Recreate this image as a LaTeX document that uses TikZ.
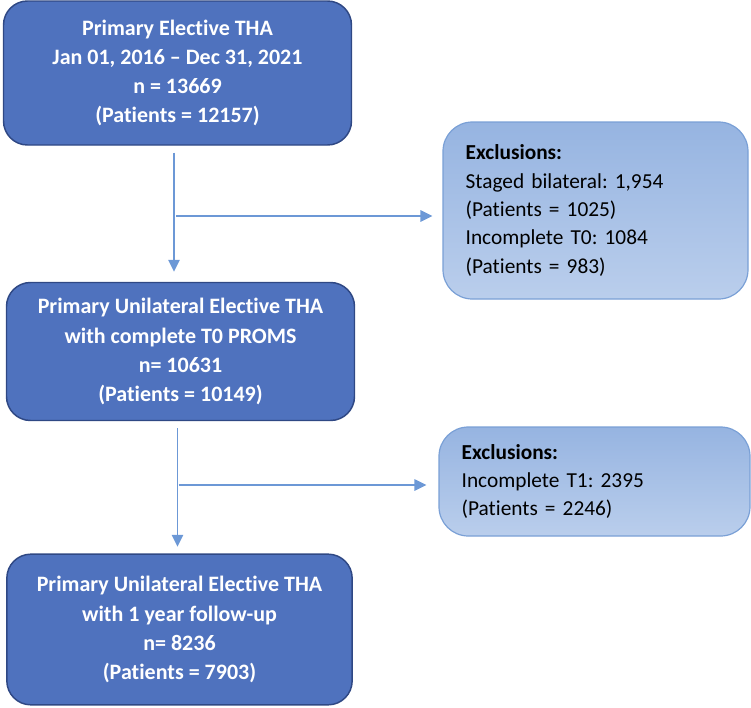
\documentclass[tikz,border=0pt]{standalone}
\usepackage{fontspec}
\setmainfont{Carlito}[Ligatures=NoCommon]
\usepackage{tikz}
\usetikzlibrary{positioning,arrows.meta,calc}
\definecolor{boxblue}{RGB}{79,114,190}
\definecolor{boxedge}{RGB}{47,72,132}
\definecolor{excltop}{RGB}{150,180,225}
\definecolor{exclbot}{RGB}{186,206,236}
\definecolor{excledge}{RGB}{122,160,214}
\definecolor{arrowblue}{RGB}{108,152,214}
\frenchspacing
\tikzset{
  flowbox/.style={draw=boxedge, line width=1.1pt, fill=boxblue, rounded corners=18pt,
    align=center, text=white, font=\fontsize{16.5}{21.8}\selectfont\bfseries,
    minimum width=261pt, inner sep=0pt},
  exclbox/.style={draw=excledge, line width=0.9pt, top color=excltop, bottom color=exclbot,
    rounded corners=22pt, align=left, font=\fontsize{16}{21.3}\selectfont,
    anchor=center, inner xsep=17pt, inner ysep=0pt},
  flowarrow/.style={draw=arrowblue, line width=1.4pt,
    -{Triangle[length=9pt, width=8.5pt]}},
}

\begin{document}
\begin{tikzpicture}[x=0.75pt, y=-0.75pt]
  \useasboundingbox (0,0) rectangle (751,708);
  % main chain
  \node[flowbox, minimum height=108pt] (prim) at (177.5,73)
    {Primary Elective THA\\Jan 01, 2016 -- Dec 31, 2021\\n = 13669\\(Patients = 12157)};
  \node[flowbox, minimum height=103.5pt] (uni) at (180.5,351.5)
    {Primary Unilateral Elective THA\\with complete T0 PROMS\\n= 10631\\(Patients = 10149)};
  \node[flowbox, minimum height=113pt, minimum width=259pt] (fup) at (179.5,629.5)
    {Primary Unilateral Elective THA\\with 1 year follow-up\\n= 8236\\(Patients = 7903)};
  % exclusions
  \node[exclbox, minimum height=132.75pt, minimum width=228.75pt, text width=194.75pt] (excla) at (595.5,210.5)
    {\textbf{Exclusions:}\\Staged bilateral: 1,954\\(Patients = 1025)\\Incomplete T0: 1084\\(Patients = 983)};
  \node[exclbox, minimum height=81.75pt, minimum width=233.25pt, text width=199.25pt] (exclb) at (594.5,481.5)
    {\textbf{Exclusions:}\\Incomplete T1: 2395\\(Patients = 2246)};
  % connectors
  \coordinate (splita) at (174,216);
  \coordinate (splitb) at (177.5,485);
  \draw[flowarrow] (prim.south -| splita) ++(0,7) -- ([yshift=7.5pt]uni.north -| splita);
  \draw[flowarrow] (splita) ++(2,0) -- ([xshift=-7.5pt]excla.west |- splita);
  \draw[flowarrow] (uni.south -| splitb) ++(0,7) -- ([yshift=5pt]fup.north -| splitb);
  \draw[flowarrow] (splitb) ++(1,0) -- ([xshift=-9pt]exclb.west |- splitb);
\end{tikzpicture}
\end{document}
